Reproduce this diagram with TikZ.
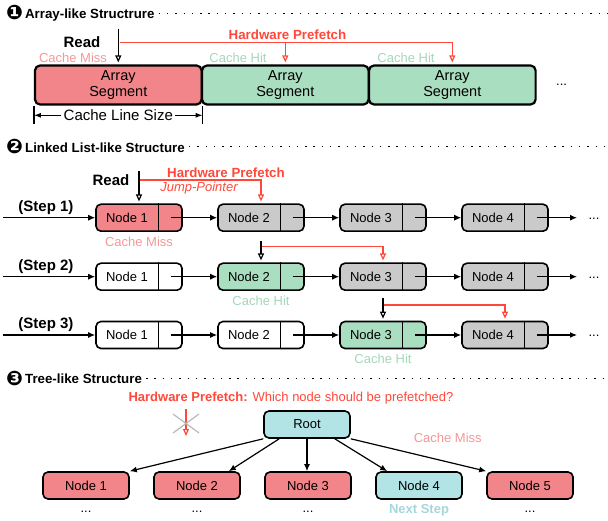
\documentclass[tikz,border=0pt]{standalone}
\usepackage{fontspec}
\setmainfont{Liberation Sans}
\newfontfamily\dejavu{DejaVu Sans}
\usetikzlibrary{arrows.meta}
\definecolor{missred}{RGB}{242,133,137}
\definecolor{hitgreen}{RGB}{170,222,192}
\definecolor{idlegray}{RGB}{202,202,202}
\definecolor{rootcyan}{RGB}{178,228,230}
\definecolor{pfred}{RGB}{255,72,58}
\definecolor{misstext}{RGB}{246,150,152}
\definecolor{hittext}{RGB}{165,215,185}
\definecolor{nexttext}{RGB}{165,215,218}
\tikzset{
	every node/.style={font=\fontsize{13}{15}\selectfont},
	hdr/.style={anchor=west, inner sep=0pt, font=\fontsize{13.3}{15}\selectfont\bfseries},
	sepline/.style={line width=1.4pt, dash pattern=on 1.4pt off 6.9pt},
	seg/.style={draw, line width=2.2pt, rounded corners=5pt, minimum width=166.6pt, minimum height=39pt, align=center, inner sep=0pt, font=\fontsize{14.5}{16}\selectfont},
	lnode/.style={draw, line width=1.6pt, rounded corners=5pt, minimum width=86pt, minimum height=27pt, inner sep=0pt},
	tnode/.style={draw, line width=1.6pt, rounded corners=5pt, minimum width=86pt, minimum height=27pt},
	big/.style={font=\fontsize{15}{17}\selectfont\bfseries},
	link/.style={line width=1.2pt, -{Latex[length=7pt,width=6pt]}},
	readarr/.style={line width=1.2pt, -{Triangle[open,length=7pt,width=6pt]}, shorten >=2pt},
	pfarr/.style={pfred, line width=1.2pt, -{Triangle[open,length=7pt,width=6pt]}, shorten >=2pt},
	dimarr/.style={line width=1.2pt, -{Latex[length=7pt,width=5pt]}},
}
\newcommand{\circnum}[1]{\raisebox{-1.5pt}{\dejavu\fontsize{20}{20}\selectfont #1}}
\begin{document}
\begin{tikzpicture}[x=1pt,y=-1pt]
	\useasboundingbox (0,0) rectangle (608,521);
	% (1) array
	\node[hdr] (h1) at (6,13.3) {\circnum{❶}\hspace{2pt}Array-like Structrure};
	\coordinate (e1) at (608,13.3);
	\draw[sepline] ([xshift=4pt]h1.east) -- (e1);
	\foreach \i\c in {1/missred,2/hitgreen,3/hitgreen}{
		\node[seg, fill=\c] (a\i) at ({118.3+167*(\i-1)}, 85) {Array\\Segment};
	}
	\node at (561.6,85) {...};
	\node[big] at (82,41.7) {Read};
	\coordinate (rd1) at (118.3,29);
	\draw[readarr] (rd1) -- (a1.north);
	\coordinate (pf1) at (119.5,42.7);
	\draw[pfarr] (pf1) -| (a3.north);
	\draw[pfarr] (pf1 -| a2.north) -- (a2.north);
	\node[font=\fontsize{13.3}{15}\selectfont\bfseries, text=pfred] at (287.5,34.3) {Hardware Prefetch};
	\node[text=misstext] at (73,58.3) {Cache Miss};
	\node[text=hittext] at (238,58.3) {Cache Hit};
	\node[text=hittext] at (406,58.3) {Cache Hit};
	\draw[line width=1.2pt] (a1.south west) -- ++(0,18);
	\draw[line width=1.2pt] (a1.south east) -- ++(0,18);
	\node[font=\fontsize{15}{17}\selectfont, inner sep=2pt] (cls) at (118.3,115.3) {Cache Line Size};
	\draw[dimarr] (cls.west) -- (cls.west -| a1.west);
	\draw[dimarr] (cls.east) -- (cls.east -| a1.east);
	% (2) linked list
	\node[hdr] (h2) at (6,146.7) {\circnum{❷}\hspace{2pt}Linked List-like Structure};
	\coordinate (e2) at (608,146.7);
	\draw[sepline] ([xshift=4pt]h2.east) -- (e2);
	\foreach \i\c in {1/missred,2/idlegray,3/idlegray,4/idlegray}{
		\node[lnode, fill=\c] (s1n\i) at ({139+122*(\i-1)}, 217.7) {\makebox[62pt]{Node \i}\makebox[24pt]{}};
	}
	\foreach \i\c in {1/white,2/hitgreen,3/idlegray,4/idlegray}{
		\node[lnode, fill=\c] (s2n\i) at ({139+122*(\i-1)}, 276.7) {\makebox[62pt]{Node \i}\makebox[24pt]{}};
	}
	\foreach \i\c in {1/white,2/white,3/hitgreen,4/idlegray}{
		\node[lnode, fill=\c] (s3n\i) at ({139+122*(\i-1)}, 335) {\makebox[62pt]{Node \i}\makebox[24pt]{}};
	}
	\foreach \r\y in {1/217.7,2/276.7,3/335}{
		\node[big] at (46,\y-10) {(Step \r)};
		\coordinate (in\r) at (3,\y);
		\coordinate (out\r) at (577,\y);
		\draw[link] (in\r) -- (s\r n1.west);
		\foreach \i[count=\j from 2] in {1,2,3}{
			\draw[link] ([xshift=-12pt]s\r n\i.east) -- (s\r n\j.west);
		}
		\draw[link] ([xshift=-12pt]s\r n4.east) -- (out\r);
		\node[anchor=base] at (594,\y+2) {...};
		\foreach \i in {1,...,4}{
			\draw[line width=1.2pt] ([xshift=-24pt]s\r n\i.north east) -- ([xshift=-24pt]s\r n\i.south east);
		}
	}
	\node[big] at (111,180) {Read};
	\coordinate (rd2) at (139,171);
	\draw[readarr] (rd2) -- (s1n1.north);
	\coordinate (pf2) at (140.2,180);
	\draw[pfarr] (pf2) -| (s1n2.north);
	\node[font=\fontsize{13.3}{15}\selectfont\bfseries, text=pfred] at (226,172.3) {Hardware Prefetch};
	\node[font=\fontsize{13}{15}\selectfont\itshape, text=pfred] at (199,188.3) {Jump-Pointer};
	\node[text=misstext] at (139,242) {Cache Miss};
	\coordinate (rd3) at (261,241);
	\draw[readarr] (rd3) -- (s2n2.north);
	\coordinate (pf3) at (262.2,246.7);
	\draw[pfarr] (pf3) -| (s2n3.north);
	\node[text=hittext] at (261,301) {Cache Hit};
	\coordinate (rd4) at (383,298.3);
	\draw[readarr] (rd4) -- (s3n3.north);
	\coordinate (pf4) at (384.2,305);
	\draw[pfarr] (pf4) -| (s3n4.north);
	\node[text=hittext] at (383,359) {Cache Hit};
	% (3) tree
	\node[hdr] (h3) at (6,378.3) {\circnum{❸}\hspace{2pt}Tree-like Structure};
	\coordinate (e3) at (608,378.3);
	\draw[sepline] ([xshift=4pt]h3.east) -- (e3);
	\node[text=pfred] at (291,398.3) {\textbf{Hardware Prefetch:} Which node should be prefetched?};
	\coordinate (x1) at (186,409);
	\coordinate (x2) at (186,436);
	\draw[pfarr, shorten >=0pt] (x1) -- (x2);
	\draw[gray!55, line width=1.2pt] (173,414) -- (199,433) (173,433) -- (199,414);
	\node[tnode, fill=rootcyan] (root) at (307,424.5) {Root};
	\node[text=misstext] at (447.7,437.7) {Cache Miss};
	\foreach \i\c in {1/missred,2/missred,3/missred,4/rootcyan,5/missred}{
		\node[tnode, fill=\c] (t\i) at ({86+111*(\i-1)}, 485.5) {Node \i};
	}
	\foreach \i in {1,2,3,5}{
		\node[anchor=base] at ({86+111*(\i-1)}, 512) {...};
	}
	\node[font=\fontsize{13}{15}\selectfont\bfseries, text=nexttext] at (419,510) {Next Step};
	\draw[link] (root.south west) -- (t1.north east);
	\draw[link] ([xshift=16pt]root.south west) -- ([xshift=-12pt]t2.north east);
	\draw[link] (root.south) -- (root.south |- t3.north);
	\draw[link] ([xshift=-16pt]root.south east) -- ([xshift=12pt]t4.north west);
	\draw[link] (root.south east) -- (t5.north west);
\end{tikzpicture}
\end{document}
